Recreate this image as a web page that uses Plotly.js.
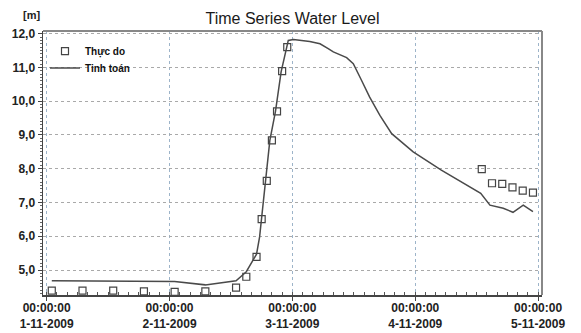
<!DOCTYPE html>
<html>
<head>
<meta charset="utf-8">
<script src="https://cdn.plot.ly/plotly-3.0.1.min.js"></script>
<style>html,body{margin:0;padding:0;background:#fff;}#chart{width:581px;height:333px;}</style>
</head>
<body>
<div id="chart"></div>
<script>
// Observed (Thực đo)
const obsTime = [
  '2009-11-01 01:00','2009-11-01 07:00','2009-11-01 13:00','2009-11-01 19:00',
  '2009-11-02 01:00','2009-11-02 07:00','2009-11-02 13:00','2009-11-02 15:00',
  '2009-11-02 17:00','2009-11-02 18:00','2009-11-02 19:00','2009-11-02 20:00',
  '2009-11-02 21:00','2009-11-02 22:00','2009-11-02 23:00',
  '2009-11-04 13:00','2009-11-04 15:00','2009-11-04 17:00','2009-11-04 19:00',
  '2009-11-04 21:00','2009-11-04 23:00'
];
const obsLevel = [
  4.39, 4.39, 4.39, 4.37,
  4.35, 4.37, 4.48, 4.80,
  5.39, 6.51, 7.64, 8.84,
  9.70, 10.89, 11.60,
  7.99, 7.57, 7.55, 7.45,
  7.35, 7.29
];
// Computed (Tính toán)
const simTime = [
  '2009-11-01 01:00','2009-11-01 13:00','2009-11-01 19:00','2009-11-02 01:00',
  '2009-11-02 07:00','2009-11-02 13:00','2009-11-02 15:00','2009-11-02 17:00',
  '2009-11-02 17:36','2009-11-02 18:00','2009-11-02 18:30','2009-11-02 19:06',
  '2009-11-02 19:36','2009-11-02 20:42','2009-11-02 21:48','2009-11-02 23:12',
  '2009-11-03 00:12','2009-11-03 03:24','2009-11-03 05:24','2009-11-03 07:00',
  '2009-11-03 08:00','2009-11-03 10:36','2009-11-03 11:54','2009-11-03 13:30',
  '2009-11-03 15:06','2009-11-03 17:06','2009-11-03 19:24','2009-11-03 23:36',
  '2009-11-04 05:06','2009-11-04 12:48','2009-11-04 14:36','2009-11-04 17:12',
  '2009-11-04 19:06','2009-11-04 21:06','2009-11-04 23:00'
];
const simLevel = [
  4.68, 4.68, 4.68, 4.66,
  4.56, 4.68, 4.95, 5.47,
  5.98, 6.57, 7.26, 8.00,
  8.84, 9.70, 10.87, 11.80,
  11.83, 11.77, 11.70, 11.56,
  11.46, 11.29, 11.11, 10.62,
  10.12, 9.58, 9.04, 8.50,
  7.96, 7.27, 6.92, 6.83,
  6.71, 6.92, 6.73
];
const dayTicks = ['2009-11-01','2009-11-02','2009-11-03','2009-11-04','2009-11-05'];
const dayLabels = ['00:00:00<br>1-11-2009','00:00:00<br>2-11-2009','00:00:00<br>3-11-2009','00:00:00<br>4-11-2009','00:00:00<br>5-11-2009'];
const seriesNames = ['Thực do','Tinh toán'];

const ff = '"Liberation Sans", Arial, sans-serif';
const legFont = {size: 10, family: ff, color: '#111', weight: 'bold'};
const traces = [
  {x: obsTime, y: obsLevel, name: seriesNames[0], type: 'scatter', mode: 'markers', legend: 'legend',
   marker: {symbol: 'square-open', size: 7, color: '#444', line: {width: 1.2, color: '#444'}}},
  {x: simTime, y: simLevel, name: seriesNames[1], type: 'scatter', mode: 'lines', legend: 'legend2',
   line: {color: '#4a4a4a', width: 1.5}}
];
const layout = {
  width: 581, height: 333,
  margin: {l: 43, r: 39, t: 31, b: 38},
  paper_bgcolor: '#fff', plot_bgcolor: '#fff',
  separators: ',.',
  font: {family: ff, color: '#222'},
  title: {text: 'Time Series Water Level', font: {size: 16, color: '#1a1a1a', family: ff},
          x: 0.5, xref: 'paper', y: 1 - 18/333, yref: 'container', yanchor: 'middle'},
  showlegend: true,
  legend: {x: 0.004, y: 0.979, xanchor: 'left', yanchor: 'top', bgcolor: 'rgba(0,0,0,0)',
           font: legFont, itemwidth: 30},
  legend2: {x: 0.004, y: 0.915, xanchor: 'left', yanchor: 'top', bgcolor: 'rgba(0,0,0,0)',
           font: legFont, itemwidth: 30},
  xaxis: {type: 'date', range: ['2009-10-31 23:17', '2009-11-05 00:46'],
          tickmode: 'array', tickvals: dayTicks, ticktext: dayLabels,
          tickfont: {size: 12, family: ff, color: '#222', weight: 'bold'},
          ticks: 'outside', ticklen: 4, tickcolor: '#444', ticklabelstandoff: -3,
          showgrid: true, gridcolor: '#9db4c9', griddash: 'dot', gridwidth: 1,
          showline: true, linecolor: '#444', linewidth: 1.5, zeroline: false,
          minor: {dtick: 7200000, tick0: '2009-11-01', ticks: 'inside', ticklen: 3, tickcolor: '#555', showgrid: false}},
  yaxis: {range: [4.26, 12.08], tick0: 0, dtick: 1, tickformat: '.1f',
          tickfont: {size: 12, family: ff, color: '#222', weight: 'bold'},
          ticks: 'outside', ticklen: 4, tickcolor: '#444',
          showgrid: true, gridcolor: '#a9a9a9', griddash: 'dot', gridwidth: 1,
          showline: true, linecolor: '#444', linewidth: 1.5, zeroline: false,
          minor: {dtick: 0.1, tick0: 0, ticks: 'outside', ticklen: 2, tickcolor: '#666', showgrid: false}},
  shapes: [
    {type: 'line', xref: 'paper', yref: 'paper', x0: 0, x1: 1, y0: 1, y1: 1, line: {color: '#888', width: 2}},
    {type: 'line', xref: 'paper', yref: 'paper', x0: 1, x1: 1, y0: 0, y1: 1, line: {color: '#888', width: 2}}
  ],
  annotations: [
    {text: '[m]', xref: 'paper', yref: 'paper', x: (31-43)/499, y: (295-15)/264, xanchor: 'center', yanchor: 'middle',
     showarrow: false, font: {size: 11, family: ff, color: '#222', weight: 'bold'}}
  ]
};
Plotly.newPlot('chart', traces, layout, {displayModeBar: false, staticPlot: true});
</script>
</body>
</html>
